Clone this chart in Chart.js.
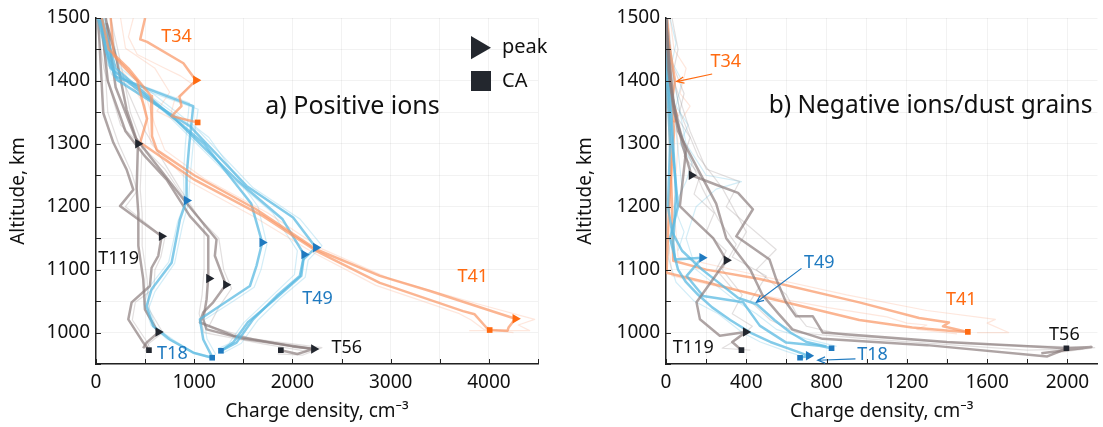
<!DOCTYPE html>
<html>
<head>
<meta charset="utf-8">
<script src="https://cdn.jsdelivr.net/npm/chart.js@4/dist/chart.umd.min.js"></script>
<style>
body { margin: 0; background: #fff; }
#wrapA { position: absolute; left: 0; top: 0; width: 560px; height: 427px; }
#wrapB { position: absolute; left: 560px; top: 0; width: 543px; height: 427px; }
</style>
</head>
<body>
<div id="wrapA"><canvas id="posChart" width="560" height="427"></canvas></div>
<div id="wrapB"><canvas id="negChart" width="543" height="427"></canvas></div>
<script>
// ---- a) positive ions: profiles as [charge density, altitude] ----
const posT34a = [[500,1500],[450,1466],[520,1462],[890,1428],[960,1413],[1017,1401],[850,1375],[870,1360],[770,1344],[1035,1334]];
const posT34b = [[380,1500],[330,1470],[420,1442],[700,1420],[860,1408],[980,1395],[800,1370],[760,1346],[950,1336]];
const posT34c = [[250,1500],[300,1452],[600,1420],[750,1382],[620,1352],[900,1330]];

const posT41a = [[60,1500],[130,1450],[330,1420],[560,1376],[570,1312],[620,1290],[1000,1250],[1630,1196],[2245,1132],[2890,1090],[3400,1066],[4269,1022],[4200,1008],[4190,1003],[4008,1004]];
const posT41b = [[150,1500],[180,1440],[420,1400],[520,1340],[450,1302],[1000,1243],[1700,1185],[2240,1130],[2890,1079],[3737,1034],[3855,1029],[3974,1008],[4008,1004]];
const posT41c = [[100,1500],[220,1430],[480,1390],[600,1330],[700,1290],[1100,1245],[1750,1190],[2300,1133],[3000,1085],[3900,1045],[4466,1021],[4300,1012],[4415,1003],[3800,1003]];
const posT41d = [[30,1500],[90,1440],[300,1410],[500,1360],[560,1300],[950,1240],[1600,1185],[2200,1128],[2850,1075],[3700,1030],[3820,1020],[3950,1005],[4250,1000]];

const posT18a = [[60,1500],[100,1450],[193,1407],[990,1360],[950,1300],[922,1249],[922,1210],[855,1180],[770,1111],[566,1069],[515,1042],[583,1010],[753,989],[990,968],[1183,960]];
const posT18b = [[90,1500],[130,1445],[230,1400],[1040,1355],[990,1300],[960,1250],[940,1205],[880,1170],[800,1110],[600,1065],[540,1040],[610,1008],[790,988],[1020,966],[1200,958]];
const posT18c = [[30,1500],[80,1450],[160,1410],[950,1365],[910,1300],[890,1250],[900,1205],[830,1175],[740,1112],[540,1072],[490,1045],[560,1012],[720,990],[960,970],[1150,962]];

const posT49a = [[40,1497],[210,1402],[956,1328],[1533,1233],[2007,1183],[2238,1135],[2109,1116],[2075,1090],[1838,1058],[1600,1021],[1431,984],[1272,971]];
const posT49b = [[20,1500],[150,1420],[800,1340],[1450,1240],[1900,1180],[2119,1124],[2090,1090],[1800,1050],[1550,1017],[1400,985],[1272,971]];
const posT49c = [[60,1500],[200,1420],[1100,1300],[1580,1205],[1692,1143],[1634,1106],[1567,1074],[1363,1053],[1058,1021],[1092,989],[1177,963]];
const posT49d = [[80,1500],[250,1410],[1050,1320],[1600,1230],[2080,1180],[2300,1138],[2160,1115],[2130,1088],[1880,1055],[1650,1020],[1480,983],[1300,968]];
const posT49e = [[10,1500],[120,1425],[700,1350],[1350,1250],[1800,1190],[2050,1130],[2020,1092],[1750,1052],[1500,1015],[1350,982],[1240,974]];
const posT49f = [[100,1500],[250,1420],[1150,1310],[1650,1200],[1740,1140],[1680,1100],[1610,1072],[1400,1050],[1100,1020],[1130,990],[1220,965]];

const posT119a = [[23,1497],[74,1349],[176,1302],[312,1259],[380,1227],[244,1201],[668,1153],[634,1122],[566,1103],[549,1074],[363,1048],[329,1021],[481,984],[539,972]];
const posT119b = [[109,1492],[210,1434],[312,1354],[427,1300],[414,1228],[431,1190],[431,1138],[481,1085],[498,1037],[634,1000],[515,984],[480,975]];
const posT119c = [[60,1500],[120,1350],[230,1300],[360,1255],[420,1225],[300,1200],[700,1150],[660,1120],[600,1100],[590,1070],[400,1048],[370,1020],[520,985],[560,972]];
const posT119d = [[150,1500],[250,1430],[350,1350],[470,1300],[450,1228],[470,1190],[470,1138],[520,1085],[540,1037],[680,1000],[540,983],[500,970]];

const posT56a = [[50,1500],[120,1400],[300,1320],[500,1280],[719,1243],[956,1185],[1143,1153],[1143,1089],[1126,1053],[1092,1021],[1126,1005],[1500,990],[2218,974],[2050,966],[1882,972]];
const posT56b = [[100,1500],[200,1390],[400,1310],[600,1270],[900,1210],[1227,1148],[1210,1122],[1322,1076],[1193,1048],[1092,1032],[1058,1016],[1400,995],[2000,978],[2218,974]];
const posT56c = [[0,1500],[80,1420],[250,1330],[700,1260],[1000,1190],[1250,1150],[1300,1100],[1380,1070],[1250,1040],[1150,1010],[1600,990],[2300,976],[2100,964],[1850,966]];
const posT56d = [[150,1500],[220,1420],[500,1320],[850,1230],[1100,1170],[1100,1100],[1080,1060],[1050,1030],[1100,1000],[1700,982],[2150,970]];

const posPeakOrange = [[1017,1401],[4269,1022]];
const posPeakBlue = [[922,1210],[1692,1143],[2238,1135],[2119,1124]];
const posPeakBlack = [[427,1300],[668,1153],[1150,1086],[1322,1076],[634,1001],[2218,974]];
const posCAOrange = [[1035,1334],[4008,1004]];
const posCABlue = [[1272,971],[1183,960]];
const posCABlack = [[539,972],[1882,972]];

// ---- b) negative ions / dust grains ----
const negG1 = [[0,1500],[15,1440],[36,1370],[80,1300],[127,1250],[250,1235],[359,1222],[433,1196],[350,1153],[516,1116],[549,1085],[598,1048],[648,1026],[731,1026],[781,1000],[1400,985],[1995,975],[2120,977],[1870,967]];
const negG2 = [[0,1500],[10,1420],[40,1350],[100,1290],[69,1201],[136,1180],[235,1150],[301,1115],[235,1085],[152,1048],[169,1021],[268,995],[397,1001],[330,985],[376,972]];
const negG3 = [[0,1500],[20,1400],[60,1320],[150,1265],[250,1205],[300,1150],[420,1100],[480,1060],[560,1030],[630,1005],[780,990],[1300,980],[1900,962],[2000,975]];
const negG4 = [[10,1500],[40,1400],[120,1320],[200,1260],[367,1240],[300,1200],[549,1132],[450,1100],[600,1060],[650,1030],[700,1010],[900,995],[1500,982],[2136,976],[1950,968]];
const negG5 = [[0,1500],[30,1380],[90,1300],[180,1230],[260,1180],[350,1140],[280,1100],[380,1060],[330,1030],[430,1010],[360,990],[280,975],[420,972]];
const negG6 = [[5,1500],[25,1430],[70,1350],[160,1280],[280,1230],[400,1160],[330,1120],[500,1090],[420,1050],[520,1020],[650,1000],[1000,990],[1800,972],[2080,974]];
const negG7 = [[30,1500],[60,1450],[40,1420],[90,1380],[60,1340],[120,1310],[90,1280],[170,1250],[140,1220],[240,1190],[200,1160],[300,1130],[250,1100],[330,1070]];

const negB1 = [[0,1500],[15,1420],[30,1330],[50,1220],[36,1143],[45,1116],[180,1119],[103,1090],[185,1058],[384,1048],[467,1011],[599,984],[764,979],[825,975]];
const negB2 = [[0,1500],[10,1400],[30,1300],[60,1200],[20,1150],[60,1100],[100,1080],[160,1060],[230,1040],[320,1020],[420,1000],[520,985],[650,970],[711,963],[668,960]];
const negB3 = [[0,1500],[30,1420],[50,1320],[80,1230],[40,1180],[10,1120],[50,1080],[140,1050],[260,1030],[380,1000],[470,985],[600,970],[700,960]];
const negB4 = [[5,1500],[40,1400],[100,1300],[200,1250],[376,1240],[250,1228],[150,1200],[100,1150],[150,1100],[250,1075],[350,1050],[450,1030],[550,1005],[700,990],[850,978]];
const negB5 = [[0,1500],[5,1400],[20,1300],[10,1200],[30,1160],[80,1130],[180,1100],[280,1075],[360,1055],[452,1045],[540,1020],[620,1000],[700,985],[800,978]];
const negB6 = [[20,1500],[50,1460],[30,1430],[80,1400],[50,1360],[110,1330],[70,1300],[130,1270],[100,1240],[40,1200],[90,1160],[60,1130]];

const negO1 = [[0,1500],[10,1400],[20,1300],[30,1200],[36,1114],[200,1100],[467,1085],[963,1048],[1261,1023],[1410,1016],[1380,1010],[1504,1001]];
const negO2 = [[0,1500],[20,1420],[40,1320],[15,1200],[3,1095],[200,1080],[467,1058],[963,1020],[1227,1008],[1410,1003],[1504,1001]];
const negO3 = [[5,1500],[30,1400],[60,1300],[40,1200],[60,1120],[400,1095],[900,1060],[1300,1035],[1641,1021],[1600,1015],[1707,1000],[1550,1000]];
const negO4 = [[0,1500],[15,1380],[30,1260],[10,1150],[30,1090],[300,1070],[800,1040],[1100,1025],[1200,1015],[1300,1012],[1250,1005],[1450,998]];
const negT34a = [[5,1500],[15,1460],[45,1400],[30,1370],[55,1345],[40,1334]];
const negT34b = [[20,1500],[40,1450],[100,1420],[70,1380],[120,1360],[80,1340]];

const negPeakBlue = [[180,1119],[711,963]];
const negPeakBlack = [[127,1250],[301,1115],[397,1001]];
const negCAOrange = [[1504,1001]];
const negCABlue = [[668,960],[825,975]];
const negCABlack = [[376,972],[1995,975]];

// ---- styles ----
const FONT = '"Noto Sans", sans-serif';
const ORANGE = 'rgba(250,150,100,0.7)', ORANGE_F = 'rgba(250,160,120,0.25)';
const BLUE = 'rgba(90,185,225,0.75)', BLUE_F = 'rgba(110,195,230,0.3)';
const GRAY = 'rgba(140,125,125,0.7)', GRAY_F = 'rgba(150,140,140,0.28)';
const M_ORANGE = '#ff6a10', M_BLUE = '#1f7ac0', M_BLACK = '#22262e';

const toXY = arr => arr.map(p => ({ x: p[0], y: p[1] }));

function profile(arr, color, thick) {
    return {
        data: toXY(arr), showLine: true, borderColor: color,
        borderWidth: thick ? 2.5 : 1.2, pointRadius: 0, pointHoverRadius: 0,
        borderJoinStyle: 'round', order: thick ? 1 : 2
    };
}
function markers(arr, color, style) {
    return {
        data: toXY(arr), showLine: false, pointStyle: style,
        rotation: style === 'triangle' ? 90 : 0,
        pointRadius: style === 'triangle' ? 5.5 : 4,
        backgroundColor: color, borderColor: color, borderWidth: 0, order: 0
    };
}

function scalesFor(xMax, xStep, xLabelEvery, yTitlePad, yWidth) {
    return {
        x: {
            type: 'linear', min: 0, max: xMax,
            afterFit: s => { s.height = 63; },
            ticks: { stepSize: xStep, includeBounds: false, padding: 7, color: '#111', font: { size: 19, family: FONT }, maxRotation: 0, autoSkip: false,
                     callback: v => (v % xLabelEvery === 0 ? v : '') },
            grid: { color: 'rgba(0,0,0,0.05)', drawTicks: false },
            border: { color: '#222', width: 1.5 },
            title: { display: true, text: 'Charge density, cm⁻³', color: '#111', font: { size: 19, family: FONT }, padding: { top: 0, bottom: 4 } }
        },
        y: {
            type: 'linear', min: 950, max: 1500,
            afterFit: s => { s.width = yWidth; },
            ticks: { stepSize: 50, padding: 6, color: '#111', font: { size: 19, family: FONT }, autoSkip: false,
                     callback: v => (v % 100 === 0 ? v : '') },
            grid: { color: 'rgba(0,0,0,0.05)', drawTicks: false },
            border: { color: '#222', width: 1.5 },
            title: { display: true, text: 'Altitude, km', color: '#111', font: { size: 19, family: FONT }, padding: { top: yTitlePad, bottom: 0 } }
        }
    };
}

function drawText(chart, txt, x, y, color, size) {
    const ctx = chart.ctx;
    ctx.save();
    ctx.font = size + 'px ' + FONT;
    ctx.fillStyle = color;
    ctx.textAlign = 'center';
    ctx.textBaseline = 'middle';
    ctx.fillText(txt, chart.scales.x.getPixelForValue(x), chart.scales.y.getPixelForValue(y));
    ctx.restore();
}
function drawArrow(chart, x1, y1, x2, y2, color) {
    const ctx = chart.ctx, sx = chart.scales.x, sy = chart.scales.y;
    const ax = sx.getPixelForValue(x1), ay = sy.getPixelForValue(y1);
    const bx = sx.getPixelForValue(x2), by = sy.getPixelForValue(y2);
    const a = Math.atan2(by - ay, bx - ax);
    ctx.save();
    ctx.strokeStyle = color; ctx.lineWidth = 1.2;
    ctx.beginPath();
    ctx.moveTo(ax, ay); ctx.lineTo(bx, by);
    ctx.moveTo(bx - 8 * Math.cos(a - 0.4), by - 8 * Math.sin(a - 0.4));
    ctx.lineTo(bx, by);
    ctx.lineTo(bx - 8 * Math.cos(a + 0.4), by - 8 * Math.sin(a + 0.4));
    ctx.stroke();
    ctx.restore();
}

// small inward tick marks on both axes
const innerTicks = {
    id: 'innerTicks',
    afterDraw(chart) {
        const ctx = chart.ctx, a = chart.chartArea;
        ctx.save();
        ctx.strokeStyle = '#222'; ctx.lineWidth = 1;
        ctx.beginPath();
        chart.scales.x.ticks.forEach(t => {
            const p = Math.round(chart.scales.x.getPixelForValue(t.value)) + 0.5;
            ctx.moveTo(p, a.bottom); ctx.lineTo(p, a.bottom - 5);
        });
        chart.scales.y.ticks.forEach(t => {
            const p = Math.round(chart.scales.y.getPixelForValue(t.value)) + 0.5;
            ctx.moveTo(a.left, p); ctx.lineTo(a.left + 5, p);
        });
        ctx.stroke();
        ctx.restore();
    }
};

const posNotes = {
    id: 'posNotes',
    afterDatasetsDraw(chart) {
        drawText(chart, 'T34', 819, 1470, M_ORANGE, 18);
        drawText(chart, 'T119', 231, 1117, '#111', 18);
        drawText(chart, 'T18', 778, 966, M_BLUE, 18);
        drawText(chart, 'T56', 2553, 975, '#111', 18);
        drawText(chart, 'T49', 2255, 1053, M_BLUE, 18);
        drawText(chart, 'T41', 3835, 1089, M_ORANGE, 18);
        drawText(chart, 'a) Positive ions', 2612, 1358, '#111', 25);
        // legend
        const ctx = chart.ctx;
        ctx.save();
        ctx.fillStyle = '#23272e';
        ctx.beginPath();
        ctx.moveTo(471, 36); ctx.lineTo(491, 47.7); ctx.lineTo(471, 59.3); ctx.closePath();
        ctx.fill();
        ctx.fillRect(471, 71, 20, 20);
        ctx.font = '20px ' + FONT;
        ctx.fillStyle = '#111';
        ctx.textBaseline = 'middle';
        ctx.fillText('peak', 502, 47);
        ctx.fillText('CA', 502, 81);
        ctx.restore();
    }
};

const negNotes = {
    id: 'negNotes',
    afterDatasetsDraw(chart) {
        drawText(chart, 'T34', 298, 1431, M_ORANGE, 18);
        drawArrow(chart, 230, 1411, 53, 1399, M_ORANGE);
        drawText(chart, 'T49', 764, 1110, M_BLUE, 18);
        drawArrow(chart, 675, 1102, 450, 1048, M_BLUE);
        drawText(chart, 'T41', 1471, 1052, M_ORANGE, 18);
        drawText(chart, 'T56', 1985, 996, '#111', 18);
        drawText(chart, 'T119', 136, 975, '#111', 18);
        drawText(chart, 'T18', 1029, 964, M_BLUE, 18);
        drawArrow(chart, 944, 958, 756, 956, M_BLUE);
        drawText(chart, 'b) Negative ions/dust grains', 1318, 1360, '#111', 24.5);
    }
};

const posDatasets = [
    markers(posPeakOrange, M_ORANGE, 'triangle'), markers(posPeakBlue, M_BLUE, 'triangle'), markers(posPeakBlack, M_BLACK, 'triangle'),
    markers(posCAOrange, M_ORANGE, 'rect'), markers(posCABlue, M_BLUE, 'rect'), markers(posCABlack, M_BLACK, 'rect'),
    profile(posT34a, ORANGE, true), profile(posT34b, ORANGE_F, false), profile(posT34c, ORANGE_F, false),
    profile(posT41a, ORANGE, true), profile(posT41b, ORANGE, true), profile(posT41c, ORANGE_F, false), profile(posT41d, ORANGE_F, false),
    profile(posT18a, BLUE, true), profile(posT18b, BLUE_F, false), profile(posT18c, BLUE_F, false),
    profile(posT49a, BLUE, true), profile(posT49b, BLUE, true), profile(posT49c, BLUE, true),
    profile(posT49d, BLUE_F, false), profile(posT49e, BLUE_F, false), profile(posT49f, BLUE_F, false),
    profile(posT119a, GRAY, true), profile(posT119b, GRAY, true), profile(posT119c, GRAY_F, false), profile(posT119d, GRAY_F, false),
    profile(posT56a, GRAY, true), profile(posT56b, GRAY, true), profile(posT56c, GRAY_F, false), profile(posT56d, GRAY_F, false)
];

const negDatasets = [
    markers(negPeakBlue, M_BLUE, 'triangle'), markers(negPeakBlack, M_BLACK, 'triangle'),
    markers(negCAOrange, M_ORANGE, 'rect'), markers(negCABlue, M_BLUE, 'rect'), markers(negCABlack, M_BLACK, 'rect'),
    profile(negG1, GRAY, true), profile(negG2, GRAY, true), profile(negG3, GRAY, true),
    profile(negG4, GRAY_F, false), profile(negG5, GRAY_F, false), profile(negG6, GRAY_F, false), profile(negG7, GRAY_F, false),
    profile(negB1, BLUE, true), profile(negB2, BLUE, true), profile(negB3, BLUE_F, false),
    profile(negB4, BLUE_F, false), profile(negB5, BLUE, true), profile(negB6, BLUE_F, false),
    profile(negO1, ORANGE, true), profile(negO2, ORANGE, true), profile(negO3, ORANGE_F, false), profile(negO4, ORANGE_F, false),
    profile(negT34a, ORANGE, true), profile(negT34b, ORANGE_F, false)
];

const baseOptions = {
    responsive: false, animation: false, devicePixelRatio: 1,
    plugins: { legend: { display: false }, tooltip: { enabled: false } }
};

// eslint-disable-next-line
const posChart = new Chart(document.getElementById('posChart'), {
    type: 'scatter',
    data: { datasets: posDatasets },
    options: Object.assign({}, baseOptions, {
        layout: { padding: { top: 18, right: 22, left: 0, bottom: 0 } },
        scales: scalesFor(4500, 500, 1000, 7, 96)
    }),
    plugins: [innerTicks, posNotes]
});

// eslint-disable-next-line
const negChart = new Chart(document.getElementById('negChart'), {
    type: 'scatter',
    data: { datasets: negDatasets },
    options: Object.assign({}, baseOptions, {
        layout: { padding: { top: 18, right: 4, left: 0, bottom: 0 } },
        scales: scalesFor(2150, 200, 400, 14, 106)
    }),
    plugins: [innerTicks, negNotes]
});
</script>
</body>
</html>
